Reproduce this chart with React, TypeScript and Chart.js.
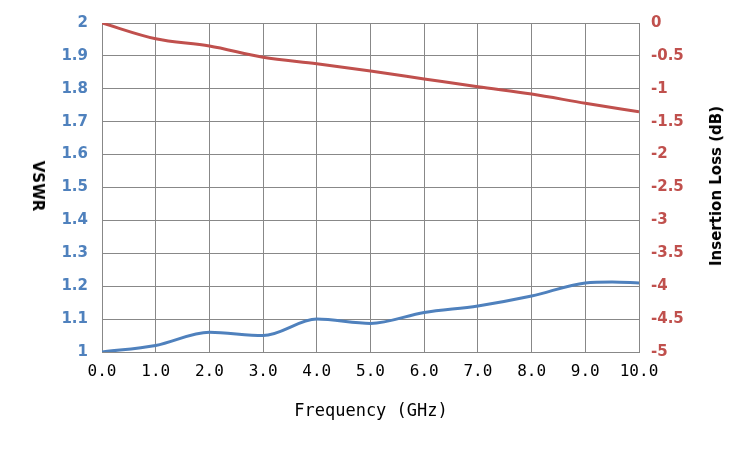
import React, { useEffect, useRef } from "react";
import { Chart, registerables } from "chart.js";
Chart.register(...registerables);

const freqs = [0, 1, 2, 3, 4, 5, 6, 7, 8, 9, 9.5, 10];
const vswr = [1.0, 1.02, 1.06, 1.05, 1.1, 1.087, 1.12, 1.14, 1.17, 1.21, 1.213, 1.21];
const lossFreqs = [0, 1, 2, 3, 4, 5, 6, 7, 8, 9, 10];
const loss = [0, -0.24, -0.35, -0.52, -0.62, -0.73, -0.85, -0.97, -1.08, -1.22, -1.35];

export default function App() {
  const ref = useRef<HTMLCanvasElement>(null);
  useEffect(() => {
    const blue = "#4f81bd";
    const red = "#c0504d";
    const chart = new Chart(ref.current!, {
      type: "line",
      data: {
        datasets: [
          {
            label: "VSWR",
            data: freqs.map((x, i) => ({ x, y: vswr[i] })),
            borderColor: blue,
            borderWidth: 3,
            pointRadius: 0,
            cubicInterpolationMode: "monotone",
            yAxisID: "y",
          },
          {
            label: "Insertion Loss",
            data: lossFreqs.map((x, i) => ({ x, y: loss[i] })),
            borderColor: red,
            borderWidth: 3,
            pointRadius: 0,
            cubicInterpolationMode: "monotone",
            yAxisID: "y2",
          },
        ],
      },
      options: {
        animation: false,
        responsive: false,
        layout: { padding: { left: 0, right: 0, top: 22, bottom: 0 } },
        plugins: { legend: { display: false }, tooltip: { enabled: false } },
        scales: {
          x: {
            type: "linear",
            min: 0,
            max: 10,
            afterFit: (s: any) => { s.height = 98; },
            ticks: {
              stepSize: 1,
              padding: 10,
              color: "#000",
              font: { family: "DejaVu Sans Mono", size: 16 },
              callback: (v: any) => Number(v).toFixed(1),
            },
            grid: { color: "#888", drawTicks: false },
            border: { color: "#888" },
          },
          y: {
            position: "left",
            min: 1,
            max: 2,
            afterFit: (s: any) => { s.width = 102; },
            ticks: {
              stepSize: 0.1,
              padding: 14,
              color: blue,
              font: { family: "DejaVu Sans", size: 15, weight: "bold" },
              callback: (v: any) => String(Math.round(Number(v) * 10) / 10),
            },
            grid: { color: "#888", drawTicks: false },
            border: { color: "#888" },
          },
          y2: {
            position: "right",
            min: -5,
            max: 0,
            afterFit: (s: any) => { s.width = 111; },
            ticks: {
              stepSize: 0.5,
              padding: 12,
              color: red,
              font: { family: "DejaVu Sans", size: 15, weight: "bold" },
              callback: (v: any) => String(Math.round(Number(v) * 10) / 10),
            },
            grid: { drawOnChartArea: false, drawTicks: false },
            border: { color: "#888" },
          },
        },
      },
    });
    return () => chart.destroy();
  }, []);
  const title: React.CSSProperties = {
    position: "absolute",
    fontFamily: "DejaVu Sans",
    fontWeight: "bold",
    fontSize: 15,
    color: "#000",
    whiteSpace: "nowrap",
  };
  return (
    <div style={{ position: "absolute", left: 0, top: 0, width: 750, height: 450, background: "#fff" }}>
      <canvas ref={ref} width={750} height={450} />
      <div style={{ ...title, left: 38, top: 186, transform: "translate(-50%,-50%) rotate(90deg)" }}>VSWR</div>
      <div style={{ ...title, left: 716, top: 186, transform: "translate(-50%,-50%) rotate(-90deg)" }}>Insertion Loss (dB)</div>
      <div style={{ ...title, fontFamily: "DejaVu Sans Mono", fontWeight: "normal", fontSize: 17, left: 371, top: 410, transform: "translate(-50%,-50%)" }}>Frequency (GHz)</div>
    </div>
  );
}
